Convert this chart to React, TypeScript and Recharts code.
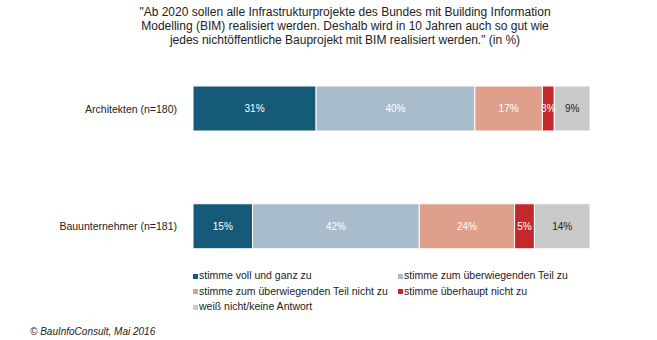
import { Bar, BarChart, LabelList, Legend, XAxis, YAxis } from 'recharts';

const categories = ['Architekten (n=180)', 'Bauunternehmer (n=181)'];
const vollUndGanz = [31, 15];
const ueberwiegendZu = [40, 42];
const ueberwiegendNicht = [17, 24];
const ueberhauptNicht = [3, 5];
const weissNicht = [9, 14];

const seriesNames = [
  'stimme voll und ganz zu',
  'stimme zum überwiegenden Teil zu',
  'stimme zum überwiegenden Teil nicht zu',
  'stimme überhaupt nicht zu',
  'weiß nicht/keine Antwort',
];
const seriesKeys = ['voll', 'ueberwiegend', 'nicht', 'ueberhaupt', 'weiss'];
const seriesColors = ['#155b79', '#a8bccb', '#df9f8a', '#c3282b', '#c9c9c9'];
const labelColors = ['#ffffff', '#ffffff', '#ffffff', '#ffffff', '#222222'];

const data = categories.map((name, i) => ({
  name,
  voll: vollUndGanz[i],
  ueberwiegend: ueberwiegendZu[i],
  nicht: ueberwiegendNicht[i],
  ueberhaupt: ueberhauptNicht[i],
  weiss: weissNicht[i],
}));

const FONT = '"Liberation Sans", Arial, sans-serif';

function LegendBox() {
  return (
    <div
      style={{
        display: 'grid',
        gridTemplateColumns: '205px 220px',
        rowGap: 2,
        fontFamily: FONT,
        fontSize: 10.5,
        color: '#222',
        lineHeight: '13.5px',
      }}
    >
      {seriesNames.map((n, i) => (
        <div key={n} style={{ whiteSpace: 'nowrap' }}>
          <span
            style={{
              display: 'inline-block',
              width: 5,
              height: 5,
              background: seriesColors[i],
              marginRight: 1,
              verticalAlign: 'middle',
            }}
          />
          {n}
        </div>
      ))}
    </div>
  );
}

export default function App() {
  return (
    <div style={{ position: 'absolute', left: 0, top: 0, width: 657, height: 340, background: '#fff' }}>
      <div
        style={{
          position: 'absolute',
          left: 120,
          width: 450,
          top: 5,
          textAlign: 'center',
          fontFamily: FONT,
          fontSize: 12,
          lineHeight: '14px',
          color: '#222',
        }}
      >
        "Ab 2020 sollen alle Infrastrukturprojekte des Bundes mit Building Information
        <br />
        Modelling (BIM) realisiert werden. Deshalb wird in 10 Jahren auch so gut wie
        <br />
        jedes nichtöffentliche Bauprojekt mit BIM realisiert werden." (in %)
      </div>
      <BarChart
        width={657}
        height={340}
        data={data}
        layout="vertical"
        margin={{ top: 50, right: 67, left: 0, bottom: 10 }}
        barSize={45}
      >
        <XAxis type="number" domain={[0, 100]} hide />
        <YAxis
          type="category"
          dataKey="name"
          width={193}
          axisLine={false}
          tickLine={false}
          tickMargin={10}
          tick={{ fontSize: 10.5, fill: '#222', fontFamily: FONT }}
        />
        <Legend
          content={() => <LegendBox />}
          wrapperStyle={{ position: 'absolute', left: 193, top: 269, width: 430 }}
        />
        {seriesKeys.map((k, i) => (
          <Bar
            key={k}
            dataKey={k}
            name={seriesNames[i]}
            stackId="a"
            fill={seriesColors[i]}
            stroke="#ffffff"
            strokeWidth={1}
            isAnimationActive={false}
          >
            <LabelList
              dataKey={k}
              position="center"
              formatter={(v: any) => `${v}%`}
              style={{ fontSize: 10, fill: labelColors[i], fontFamily: FONT }}
            />
          </Bar>
        ))}
      </BarChart>
      <div
        style={{
          position: 'absolute',
          left: 30,
          top: 326,
          fontFamily: FONT,
          fontSize: 10,
          fontStyle: 'italic',
          color: '#222',
        }}
      >
        © BauInfoConsult, Mai 2016
      </div>
    </div>
  );
}
